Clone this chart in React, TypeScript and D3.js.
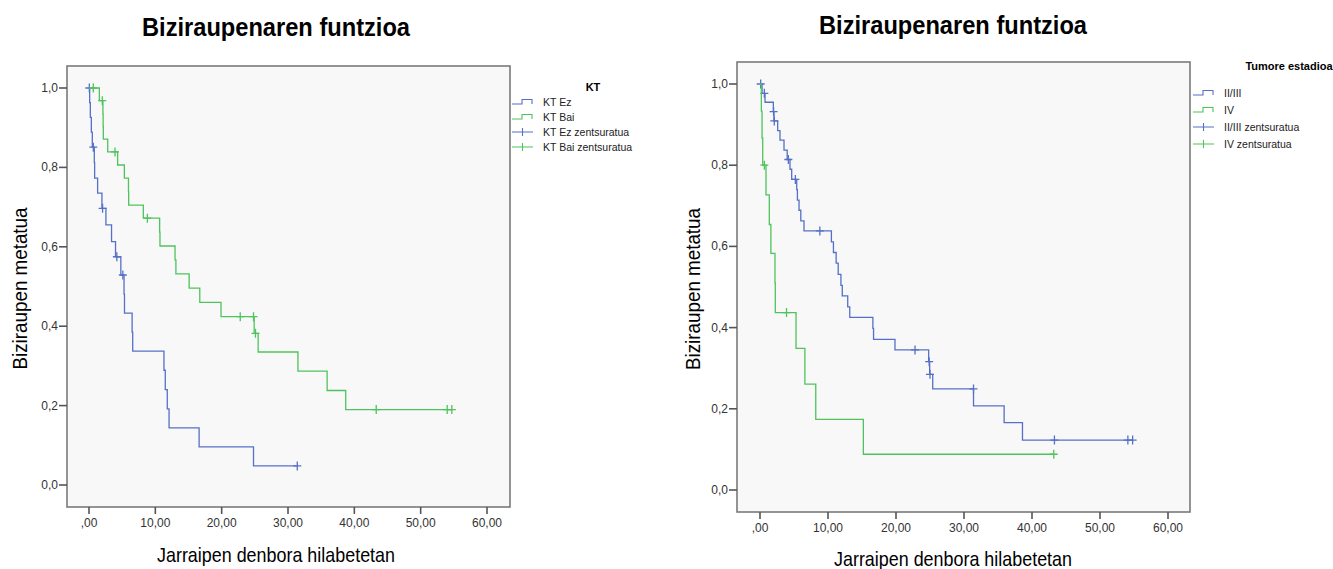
import * as d3 from "d3";

// ---- data ----
const xTicks = [0, 10, 20, 30, 40, 50, 60];
const xTickLabels = [",00", "10,00", "20,00", "30,00", "40,00", "50,00", "60,00"];
const yTicks = [0, 0.2, 0.4, 0.6, 0.8, 1.0];
const yTickLabels = ["0,0", "0,2", "0,4", "0,6", "0,8", "1,0"];

// left: KT
const ktEzTime = [0, 0.1, 0.2, 0.35, 0.5, 0.8, 0.85, 1.3, 1.95, 2.55, 3.4, 4.0, 4.8, 5.28, 5.35, 6.5, 6.59, 11.3, 11.5, 11.8, 12.07, 16.6, 24.8, 31.4];
const ktEzSurv = [1, 0.963, 0.926, 0.889, 0.851, 0.812, 0.773, 0.735, 0.697, 0.655, 0.613, 0.575, 0.529, 0.481, 0.433, 0.385, 0.337, 0.289, 0.24, 0.192, 0.144, 0.096, 0.048, 0.048];
const ktEzCensTime = [0.05, 0.65, 2.05, 4.2, 5.1, 31.4];
const ktEzCensSurv = [1, 0.851, 0.697, 0.575, 0.529, 0.048];

const ktBaiTime = [0, 1.56, 2.1, 2.13, 2.16, 2.82, 4.32, 5.33, 5.95, 5.98, 8.19, 10.65, 10.7, 12.97, 13.1, 15.1, 16.7, 19.9, 24.9, 25.5, 31.5, 35.9, 38.7, 54.7];
const ktBaiSurv = [1, 0.968, 0.935, 0.903, 0.871, 0.839, 0.806, 0.773, 0.739, 0.705, 0.672, 0.637, 0.602, 0.567, 0.532, 0.496, 0.46, 0.424, 0.382, 0.335, 0.287, 0.238, 0.19, 0.19];
const ktBaiCensTime = [0.65, 2.0, 3.92, 8.8, 22.8, 24.8, 25.1, 43.3, 54.0, 54.7];
const ktBaiCensSurv = [1, 0.968, 0.839, 0.672, 0.424, 0.424, 0.382, 0.19, 0.19, 0.19];

// right: tumour stage
const st23Time = [0, 0.3, 0.74, 1.96, 2.05, 2.6, 2.94, 3.53, 4.0, 4.41, 4.66, 5.4, 5.5, 5.74, 6.0, 6.47, 10.5, 10.8, 11.2, 11.5, 11.9, 12.1, 12.9, 13.2, 16.6, 16.7, 19.85, 24.8, 24.95, 25.4, 31.4, 35.9, 38.6, 54.8];
const st23Surv = [1, 0.977, 0.955, 0.932, 0.909, 0.885, 0.862, 0.837, 0.814, 0.79, 0.765, 0.74, 0.714, 0.689, 0.663, 0.638, 0.611, 0.585, 0.559, 0.531, 0.504, 0.478, 0.451, 0.425, 0.398, 0.371, 0.345, 0.316, 0.285, 0.249, 0.207, 0.166, 0.123, 0.123];
const st23CensTime = [0.1, 0.64, 2.0, 2.1, 4.17, 5.2, 8.8, 22.8, 24.88, 25.0, 31.4, 43.3, 54.1, 54.8];
const st23CensSurv = [1, 0.977, 0.932, 0.909, 0.814, 0.765, 0.638, 0.345, 0.316, 0.285, 0.249, 0.123, 0.123, 0.123];

const st4Time = [0, 0.2, 0.3, 0.4, 0.88, 1.37, 1.6, 2.2, 2.25, 5.3, 6.6, 8.2, 15.2, 43.2];
const st4Surv = [1, 0.933, 0.867, 0.8, 0.727, 0.654, 0.583, 0.51, 0.437, 0.349, 0.261, 0.174, 0.088, 0.088];
const st4CensTime = [0.64, 3.9, 43.2];
const st4CensSurv = [0.8, 0.437, 0.088];

const BLUE = "#5570c8";
const GREEN = "#4fc35c";
const FONT = "'Liberation Sans', Arial, sans-serif";

const zip = (a: number[], b: number[]) => a.map((v, i) => [v, b[i]] as [number, number]);

type Series = { name: string; color: string; time: number[]; surv: number[]; censTime: number[]; censSurv: number[] };

function KMChart(props: {
  frame: { x0: number; x1: number; y0: number; y1: number };
  xRange: [number, number];
  yRange: [number, number];
  cx: number;
  titleY: number;
  xLabelY: number;
  yLabelX: number;
  tickLabelY: number;
  legendTitle: string;
  legendTitleX: number;
  legendTitleY: number;
  legendX: number;
  legendRows: number[];
  series: Series[];
}) {
  const { frame, series } = props;
  const x = d3.scaleLinear().domain([0, 60]).range(props.xRange);
  const y = d3.scaleLinear().domain([0, 1]).range(props.yRange);
  const line = d3
    .line<[number, number]>()
    .x((d) => x(d[0]))
    .y((d) => y(d[1]))
    .curve(d3.curveStepAfter);

  const legendItems = [
    ...series.map((s) => ({ label: s.name, color: s.color, kind: "step" })),
    ...series.map((s) => ({ label: s.name + " zentsuratua", color: s.color, kind: "cens" })),
  ];
  const lx = props.legendX;

  return (
    <g fontFamily={FONT}>
      <text x={props.cx} y={props.titleY} textAnchor="middle" fontSize={26} fontWeight="bold" textLength={268} lengthAdjust="spacingAndGlyphs">
        Biziraupenaren funtzioa
      </text>
      <rect x={frame.x0} y={frame.y0} width={frame.x1 - frame.x0} height={frame.y1 - frame.y0} fill="#f8f8f8" stroke="#7a7a7a" strokeWidth={1.6} />

      {/* y axis */}
      {yTicks.map((t, i) => (
        <g key={"y" + i}>
          <line x1={frame.x0 - 8} x2={frame.x0} y1={y(t)} y2={y(t)} stroke="#555" strokeWidth={1.6} />
          <text x={frame.x0 - 9} y={y(t) + 4} textAnchor="end" fontSize={12} fill="#333">
            {yTickLabels[i]}
          </text>
        </g>
      ))}
      {/* x axis */}
      {xTicks.map((t, i) => (
        <g key={"x" + i}>
          <line x1={x(t)} x2={x(t)} y1={frame.y1} y2={frame.y1 + 7} stroke="#555" strokeWidth={1.6} />
          <text x={x(t)} y={props.tickLabelY} textAnchor="middle" fontSize={12} fill="#333">
            {xTickLabels[i]}
          </text>
        </g>
      ))}
      <text x={props.cx} y={props.xLabelY} textAnchor="middle" fontSize={21} textLength={238} lengthAdjust="spacingAndGlyphs">
        Jarraipen denbora hilabetetan
      </text>
      <text
        transform={`translate(${props.yLabelX},${(frame.y0 + frame.y1) / 2 + 2}) rotate(-90)`}
        textAnchor="middle"
        fontSize={21}
        textLength={162}
        lengthAdjust="spacingAndGlyphs"
      >
        Biziraupen metatua
      </text>

      {/* curves */}
      {series.map((s) => (
        <g key={s.name}>
          <path d={line(zip(s.time, s.surv)) || ""} fill="none" stroke={s.color} strokeWidth={1.3} />
          {zip(s.censTime, s.censSurv).map((c, i) => (
            <path
              key={i}
              d={`M${x(c[0]) - 4},${y(c[1])}h8M${x(c[0])},${y(c[1]) - 4.5}v9`}
              stroke={s.color}
              strokeWidth={1.3}
              fill="none"
            />
          ))}
        </g>
      ))}

      {/* legend */}
      <text x={props.legendTitleX} y={props.legendTitleY} textAnchor="middle" fontSize={11} fontWeight="bold">
        {props.legendTitle}
      </text>
      {legendItems.map((it, i) => {
        const ry = props.legendRows[i];
        return (
          <g key={"l" + i}>
            {it.kind === "step" ? (
              <path d={`M${lx},${ry + 1}h10v-4.5h10v4.5`} fill="none" stroke={it.color} strokeWidth={1.1} />
            ) : (
              <path d={`M${lx},${ry - 1}h21M${lx + 10.5},${ry - 5}v8`} fill="none" stroke={it.color} strokeWidth={1.1} />
            )}
            <text x={lx + 31} y={ry + 3} fontSize={10.5} fill="#222">
              {it.label}
            </text>
          </g>
        );
      })}
    </g>
  );
}

export default function App() {
  const ktSeries: Series[] = [
    { name: "KT Ez", color: BLUE, time: ktEzTime, surv: ktEzSurv, censTime: ktEzCensTime, censSurv: ktEzCensSurv },
    { name: "KT Bai", color: GREEN, time: ktBaiTime, surv: ktBaiSurv, censTime: ktBaiCensTime, censSurv: ktBaiCensSurv },
  ];
  const stageSeries: Series[] = [
    { name: "II/III", color: BLUE, time: st23Time, surv: st23Surv, censTime: st23CensTime, censSurv: st23CensSurv },
    { name: "IV", color: GREEN, time: st4Time, surv: st4Surv, censTime: st4CensTime, censSurv: st4CensSurv },
  ];

  return (
    <svg width={1333} height={569} style={{ position: "absolute", left: 0, top: 0, background: "#fff" }}>
      <KMChart
        frame={{ x0: 67, x1: 510, y0: 66, y1: 507 }}
        xRange={[89, 487]}
        yRange={[485, 88]}
        cx={276}
        titleY={36}
        xLabelY={562}
        yLabelX={27}
        tickLabelY={527}
        legendTitle="KT"
        legendTitleX={593}
        legendTitleY={91}
        legendX={512}
        legendRows={[103, 118, 133, 148]}
        series={ktSeries}
      />
      <KMChart
        frame={{ x0: 737, x1: 1190, y0: 62, y1: 512 }}
        xRange={[760, 1168]}
        yRange={[490, 84]}
        cx={953}
        titleY={34}
        xLabelY={566}
        yLabelX={700}
        tickLabelY={532}
        legendTitle="Tumore estadioa"
        legendTitleX={1289}
        legendTitleY={70}
        legendX={1193}
        legendRows={[94, 111, 128, 145]}
        series={stageSeries}
      />
    </svg>
  );
}
